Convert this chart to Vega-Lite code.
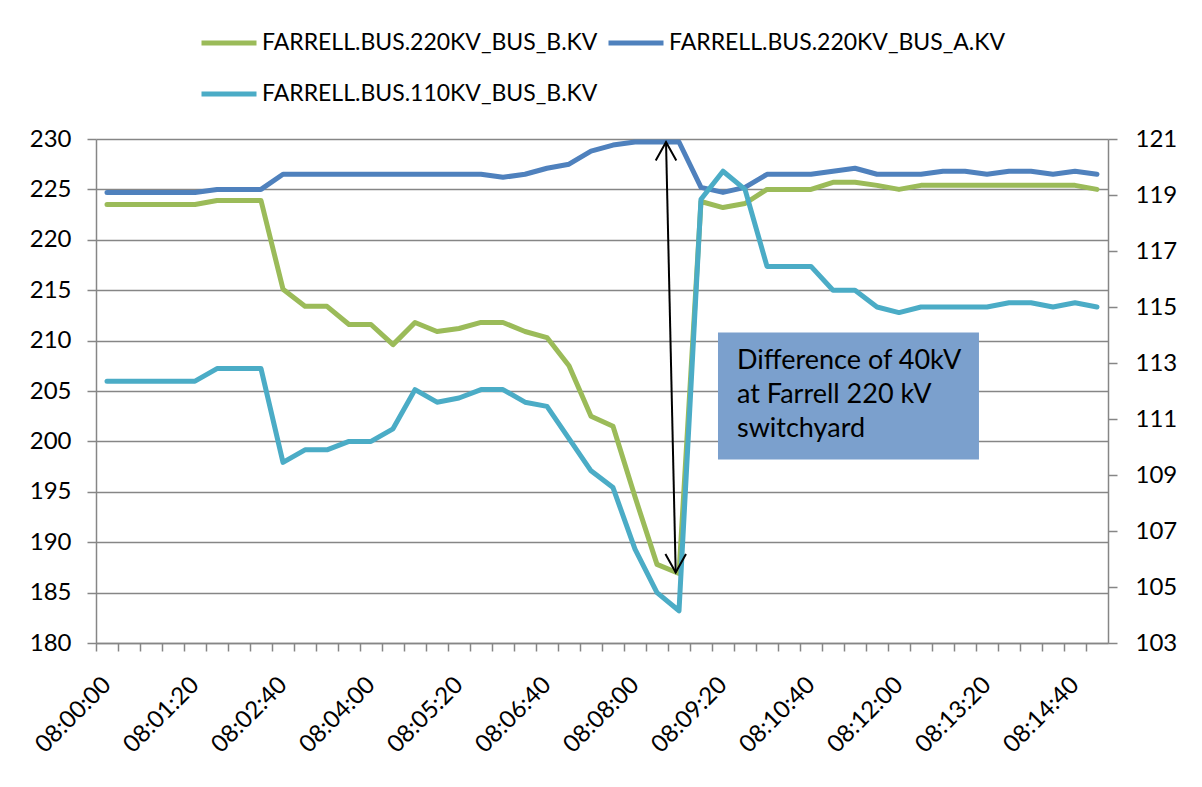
{
  "$schema": "https://vega.github.io/schema/vega-lite/v6.json",
  "width": 1012,
  "height": 504,
  "autosize": "none",
  "padding": {"left": 96, "top": 139, "right": 94, "bottom": 144},
  "background": "#ffffff",
  "config": {
    "view": {"stroke": null},
    "font": "Lato",
    "axis": {
      "labelFont": "Lato",
      "labelFontSize": 24,
      "labelColor": "#000000",
      "domainColor": "#868686",
      "domainWidth": 1.5,
      "tickColor": "#868686",
      "tickWidth": 1.5,
      "gridColor": "#868686",
      "gridWidth": 1.5
    }
  },
  "datasets": {
    "series": [
      {"t": "2012-01-01T08:00:00", "s": "FARRELL.BUS.220KV_BUS_B.KV", "v": 223.5},
      {"t": "2012-01-01T08:00:20", "s": "FARRELL.BUS.220KV_BUS_B.KV", "v": 223.5},
      {"t": "2012-01-01T08:00:40", "s": "FARRELL.BUS.220KV_BUS_B.KV", "v": 223.5},
      {"t": "2012-01-01T08:01:00", "s": "FARRELL.BUS.220KV_BUS_B.KV", "v": 223.5},
      {"t": "2012-01-01T08:01:20", "s": "FARRELL.BUS.220KV_BUS_B.KV", "v": 223.5},
      {"t": "2012-01-01T08:01:40", "s": "FARRELL.BUS.220KV_BUS_B.KV", "v": 223.9},
      {"t": "2012-01-01T08:02:00", "s": "FARRELL.BUS.220KV_BUS_B.KV", "v": 223.9},
      {"t": "2012-01-01T08:02:20", "s": "FARRELL.BUS.220KV_BUS_B.KV", "v": 223.9},
      {"t": "2012-01-01T08:02:40", "s": "FARRELL.BUS.220KV_BUS_B.KV", "v": 215.1},
      {"t": "2012-01-01T08:03:00", "s": "FARRELL.BUS.220KV_BUS_B.KV", "v": 213.4},
      {"t": "2012-01-01T08:03:20", "s": "FARRELL.BUS.220KV_BUS_B.KV", "v": 213.4},
      {"t": "2012-01-01T08:03:40", "s": "FARRELL.BUS.220KV_BUS_B.KV", "v": 211.6},
      {"t": "2012-01-01T08:04:00", "s": "FARRELL.BUS.220KV_BUS_B.KV", "v": 211.6},
      {"t": "2012-01-01T08:04:20", "s": "FARRELL.BUS.220KV_BUS_B.KV", "v": 209.6},
      {"t": "2012-01-01T08:04:40", "s": "FARRELL.BUS.220KV_BUS_B.KV", "v": 211.8},
      {"t": "2012-01-01T08:05:00", "s": "FARRELL.BUS.220KV_BUS_B.KV", "v": 210.9},
      {"t": "2012-01-01T08:05:20", "s": "FARRELL.BUS.220KV_BUS_B.KV", "v": 211.2},
      {"t": "2012-01-01T08:05:40", "s": "FARRELL.BUS.220KV_BUS_B.KV", "v": 211.8},
      {"t": "2012-01-01T08:06:00", "s": "FARRELL.BUS.220KV_BUS_B.KV", "v": 211.8},
      {"t": "2012-01-01T08:06:20", "s": "FARRELL.BUS.220KV_BUS_B.KV", "v": 210.9},
      {"t": "2012-01-01T08:06:40", "s": "FARRELL.BUS.220KV_BUS_B.KV", "v": 210.3},
      {"t": "2012-01-01T08:07:00", "s": "FARRELL.BUS.220KV_BUS_B.KV", "v": 207.5},
      {"t": "2012-01-01T08:07:20", "s": "FARRELL.BUS.220KV_BUS_B.KV", "v": 202.5},
      {"t": "2012-01-01T08:07:40", "s": "FARRELL.BUS.220KV_BUS_B.KV", "v": 201.5},
      {"t": "2012-01-01T08:08:00", "s": "FARRELL.BUS.220KV_BUS_B.KV", "v": 194.5},
      {"t": "2012-01-01T08:08:20", "s": "FARRELL.BUS.220KV_BUS_B.KV", "v": 187.8},
      {"t": "2012-01-01T08:08:40", "s": "FARRELL.BUS.220KV_BUS_B.KV", "v": 186.9},
      {"t": "2012-01-01T08:09:00", "s": "FARRELL.BUS.220KV_BUS_B.KV", "v": 223.8},
      {"t": "2012-01-01T08:09:20", "s": "FARRELL.BUS.220KV_BUS_B.KV", "v": 223.2},
      {"t": "2012-01-01T08:09:40", "s": "FARRELL.BUS.220KV_BUS_B.KV", "v": 223.6},
      {"t": "2012-01-01T08:10:00", "s": "FARRELL.BUS.220KV_BUS_B.KV", "v": 225.0},
      {"t": "2012-01-01T08:10:20", "s": "FARRELL.BUS.220KV_BUS_B.KV", "v": 225.0},
      {"t": "2012-01-01T08:10:40", "s": "FARRELL.BUS.220KV_BUS_B.KV", "v": 225.0},
      {"t": "2012-01-01T08:11:00", "s": "FARRELL.BUS.220KV_BUS_B.KV", "v": 225.7},
      {"t": "2012-01-01T08:11:20", "s": "FARRELL.BUS.220KV_BUS_B.KV", "v": 225.7},
      {"t": "2012-01-01T08:11:40", "s": "FARRELL.BUS.220KV_BUS_B.KV", "v": 225.4},
      {"t": "2012-01-01T08:12:00", "s": "FARRELL.BUS.220KV_BUS_B.KV", "v": 225.0},
      {"t": "2012-01-01T08:12:20", "s": "FARRELL.BUS.220KV_BUS_B.KV", "v": 225.4},
      {"t": "2012-01-01T08:12:40", "s": "FARRELL.BUS.220KV_BUS_B.KV", "v": 225.4},
      {"t": "2012-01-01T08:13:00", "s": "FARRELL.BUS.220KV_BUS_B.KV", "v": 225.4},
      {"t": "2012-01-01T08:13:20", "s": "FARRELL.BUS.220KV_BUS_B.KV", "v": 225.4},
      {"t": "2012-01-01T08:13:40", "s": "FARRELL.BUS.220KV_BUS_B.KV", "v": 225.4},
      {"t": "2012-01-01T08:14:00", "s": "FARRELL.BUS.220KV_BUS_B.KV", "v": 225.4},
      {"t": "2012-01-01T08:14:20", "s": "FARRELL.BUS.220KV_BUS_B.KV", "v": 225.4},
      {"t": "2012-01-01T08:14:40", "s": "FARRELL.BUS.220KV_BUS_B.KV", "v": 225.4},
      {"t": "2012-01-01T08:15:00", "s": "FARRELL.BUS.220KV_BUS_B.KV", "v": 225.0},
      {"t": "2012-01-01T08:00:00", "s": "FARRELL.BUS.220KV_BUS_A.KV", "v": 224.7},
      {"t": "2012-01-01T08:00:20", "s": "FARRELL.BUS.220KV_BUS_A.KV", "v": 224.7},
      {"t": "2012-01-01T08:00:40", "s": "FARRELL.BUS.220KV_BUS_A.KV", "v": 224.7},
      {"t": "2012-01-01T08:01:00", "s": "FARRELL.BUS.220KV_BUS_A.KV", "v": 224.7},
      {"t": "2012-01-01T08:01:20", "s": "FARRELL.BUS.220KV_BUS_A.KV", "v": 224.7},
      {"t": "2012-01-01T08:01:40", "s": "FARRELL.BUS.220KV_BUS_A.KV", "v": 225.0},
      {"t": "2012-01-01T08:02:00", "s": "FARRELL.BUS.220KV_BUS_A.KV", "v": 225.0},
      {"t": "2012-01-01T08:02:20", "s": "FARRELL.BUS.220KV_BUS_A.KV", "v": 225.0},
      {"t": "2012-01-01T08:02:40", "s": "FARRELL.BUS.220KV_BUS_A.KV", "v": 226.5},
      {"t": "2012-01-01T08:03:00", "s": "FARRELL.BUS.220KV_BUS_A.KV", "v": 226.5},
      {"t": "2012-01-01T08:03:20", "s": "FARRELL.BUS.220KV_BUS_A.KV", "v": 226.5},
      {"t": "2012-01-01T08:03:40", "s": "FARRELL.BUS.220KV_BUS_A.KV", "v": 226.5},
      {"t": "2012-01-01T08:04:00", "s": "FARRELL.BUS.220KV_BUS_A.KV", "v": 226.5},
      {"t": "2012-01-01T08:04:20", "s": "FARRELL.BUS.220KV_BUS_A.KV", "v": 226.5},
      {"t": "2012-01-01T08:04:40", "s": "FARRELL.BUS.220KV_BUS_A.KV", "v": 226.5},
      {"t": "2012-01-01T08:05:00", "s": "FARRELL.BUS.220KV_BUS_A.KV", "v": 226.5},
      {"t": "2012-01-01T08:05:20", "s": "FARRELL.BUS.220KV_BUS_A.KV", "v": 226.5},
      {"t": "2012-01-01T08:05:40", "s": "FARRELL.BUS.220KV_BUS_A.KV", "v": 226.5},
      {"t": "2012-01-01T08:06:00", "s": "FARRELL.BUS.220KV_BUS_A.KV", "v": 226.2},
      {"t": "2012-01-01T08:06:20", "s": "FARRELL.BUS.220KV_BUS_A.KV", "v": 226.5},
      {"t": "2012-01-01T08:06:40", "s": "FARRELL.BUS.220KV_BUS_A.KV", "v": 227.1},
      {"t": "2012-01-01T08:07:00", "s": "FARRELL.BUS.220KV_BUS_A.KV", "v": 227.5},
      {"t": "2012-01-01T08:07:20", "s": "FARRELL.BUS.220KV_BUS_A.KV", "v": 228.8},
      {"t": "2012-01-01T08:07:40", "s": "FARRELL.BUS.220KV_BUS_A.KV", "v": 229.4},
      {"t": "2012-01-01T08:08:00", "s": "FARRELL.BUS.220KV_BUS_A.KV", "v": 229.7},
      {"t": "2012-01-01T08:08:20", "s": "FARRELL.BUS.220KV_BUS_A.KV", "v": 229.7},
      {"t": "2012-01-01T08:08:40", "s": "FARRELL.BUS.220KV_BUS_A.KV", "v": 229.7},
      {"t": "2012-01-01T08:09:00", "s": "FARRELL.BUS.220KV_BUS_A.KV", "v": 225.2},
      {"t": "2012-01-01T08:09:20", "s": "FARRELL.BUS.220KV_BUS_A.KV", "v": 224.7},
      {"t": "2012-01-01T08:09:40", "s": "FARRELL.BUS.220KV_BUS_A.KV", "v": 225.2},
      {"t": "2012-01-01T08:10:00", "s": "FARRELL.BUS.220KV_BUS_A.KV", "v": 226.5},
      {"t": "2012-01-01T08:10:20", "s": "FARRELL.BUS.220KV_BUS_A.KV", "v": 226.5},
      {"t": "2012-01-01T08:10:40", "s": "FARRELL.BUS.220KV_BUS_A.KV", "v": 226.5},
      {"t": "2012-01-01T08:11:00", "s": "FARRELL.BUS.220KV_BUS_A.KV", "v": 226.8},
      {"t": "2012-01-01T08:11:20", "s": "FARRELL.BUS.220KV_BUS_A.KV", "v": 227.1},
      {"t": "2012-01-01T08:11:40", "s": "FARRELL.BUS.220KV_BUS_A.KV", "v": 226.5},
      {"t": "2012-01-01T08:12:00", "s": "FARRELL.BUS.220KV_BUS_A.KV", "v": 226.5},
      {"t": "2012-01-01T08:12:20", "s": "FARRELL.BUS.220KV_BUS_A.KV", "v": 226.5},
      {"t": "2012-01-01T08:12:40", "s": "FARRELL.BUS.220KV_BUS_A.KV", "v": 226.8},
      {"t": "2012-01-01T08:13:00", "s": "FARRELL.BUS.220KV_BUS_A.KV", "v": 226.8},
      {"t": "2012-01-01T08:13:20", "s": "FARRELL.BUS.220KV_BUS_A.KV", "v": 226.5},
      {"t": "2012-01-01T08:13:40", "s": "FARRELL.BUS.220KV_BUS_A.KV", "v": 226.8},
      {"t": "2012-01-01T08:14:00", "s": "FARRELL.BUS.220KV_BUS_A.KV", "v": 226.8},
      {"t": "2012-01-01T08:14:20", "s": "FARRELL.BUS.220KV_BUS_A.KV", "v": 226.5},
      {"t": "2012-01-01T08:14:40", "s": "FARRELL.BUS.220KV_BUS_A.KV", "v": 226.8},
      {"t": "2012-01-01T08:15:00", "s": "FARRELL.BUS.220KV_BUS_A.KV", "v": 226.5},
      {"t": "2012-01-01T08:00:00", "s": "FARRELL.BUS.110KV_BUS_B.KV", "v": 112.35},
      {"t": "2012-01-01T08:00:20", "s": "FARRELL.BUS.110KV_BUS_B.KV", "v": 112.35},
      {"t": "2012-01-01T08:00:40", "s": "FARRELL.BUS.110KV_BUS_B.KV", "v": 112.35},
      {"t": "2012-01-01T08:01:00", "s": "FARRELL.BUS.110KV_BUS_B.KV", "v": 112.35},
      {"t": "2012-01-01T08:01:20", "s": "FARRELL.BUS.110KV_BUS_B.KV", "v": 112.35},
      {"t": "2012-01-01T08:01:40", "s": "FARRELL.BUS.110KV_BUS_B.KV", "v": 112.8},
      {"t": "2012-01-01T08:02:00", "s": "FARRELL.BUS.110KV_BUS_B.KV", "v": 112.8},
      {"t": "2012-01-01T08:02:20", "s": "FARRELL.BUS.110KV_BUS_B.KV", "v": 112.8},
      {"t": "2012-01-01T08:02:40", "s": "FARRELL.BUS.110KV_BUS_B.KV", "v": 109.45},
      {"t": "2012-01-01T08:03:00", "s": "FARRELL.BUS.110KV_BUS_B.KV", "v": 109.9},
      {"t": "2012-01-01T08:03:20", "s": "FARRELL.BUS.110KV_BUS_B.KV", "v": 109.9},
      {"t": "2012-01-01T08:03:40", "s": "FARRELL.BUS.110KV_BUS_B.KV", "v": 110.2},
      {"t": "2012-01-01T08:04:00", "s": "FARRELL.BUS.110KV_BUS_B.KV", "v": 110.2},
      {"t": "2012-01-01T08:04:20", "s": "FARRELL.BUS.110KV_BUS_B.KV", "v": 110.65},
      {"t": "2012-01-01T08:04:40", "s": "FARRELL.BUS.110KV_BUS_B.KV", "v": 112.05},
      {"t": "2012-01-01T08:05:00", "s": "FARRELL.BUS.110KV_BUS_B.KV", "v": 111.6},
      {"t": "2012-01-01T08:05:20", "s": "FARRELL.BUS.110KV_BUS_B.KV", "v": 111.75},
      {"t": "2012-01-01T08:05:40", "s": "FARRELL.BUS.110KV_BUS_B.KV", "v": 112.05},
      {"t": "2012-01-01T08:06:00", "s": "FARRELL.BUS.110KV_BUS_B.KV", "v": 112.05},
      {"t": "2012-01-01T08:06:20", "s": "FARRELL.BUS.110KV_BUS_B.KV", "v": 111.6},
      {"t": "2012-01-01T08:06:40", "s": "FARRELL.BUS.110KV_BUS_B.KV", "v": 111.45},
      {"t": "2012-01-01T08:07:00", "s": "FARRELL.BUS.110KV_BUS_B.KV", "v": 110.3},
      {"t": "2012-01-01T08:07:20", "s": "FARRELL.BUS.110KV_BUS_B.KV", "v": 109.15},
      {"t": "2012-01-01T08:07:40", "s": "FARRELL.BUS.110KV_BUS_B.KV", "v": 108.55},
      {"t": "2012-01-01T08:08:00", "s": "FARRELL.BUS.110KV_BUS_B.KV", "v": 106.35},
      {"t": "2012-01-01T08:08:20", "s": "FARRELL.BUS.110KV_BUS_B.KV", "v": 104.8},
      {"t": "2012-01-01T08:08:40", "s": "FARRELL.BUS.110KV_BUS_B.KV", "v": 104.15},
      {"t": "2012-01-01T08:09:00", "s": "FARRELL.BUS.110KV_BUS_B.KV", "v": 118.85},
      {"t": "2012-01-01T08:09:20", "s": "FARRELL.BUS.110KV_BUS_B.KV", "v": 119.85},
      {"t": "2012-01-01T08:09:40", "s": "FARRELL.BUS.110KV_BUS_B.KV", "v": 119.2},
      {"t": "2012-01-01T08:10:00", "s": "FARRELL.BUS.110KV_BUS_B.KV", "v": 116.45},
      {"t": "2012-01-01T08:10:20", "s": "FARRELL.BUS.110KV_BUS_B.KV", "v": 116.45},
      {"t": "2012-01-01T08:10:40", "s": "FARRELL.BUS.110KV_BUS_B.KV", "v": 116.45},
      {"t": "2012-01-01T08:11:00", "s": "FARRELL.BUS.110KV_BUS_B.KV", "v": 115.6},
      {"t": "2012-01-01T08:11:20", "s": "FARRELL.BUS.110KV_BUS_B.KV", "v": 115.6},
      {"t": "2012-01-01T08:11:40", "s": "FARRELL.BUS.110KV_BUS_B.KV", "v": 115.0},
      {"t": "2012-01-01T08:12:00", "s": "FARRELL.BUS.110KV_BUS_B.KV", "v": 114.8},
      {"t": "2012-01-01T08:12:20", "s": "FARRELL.BUS.110KV_BUS_B.KV", "v": 115.0},
      {"t": "2012-01-01T08:12:40", "s": "FARRELL.BUS.110KV_BUS_B.KV", "v": 115.0},
      {"t": "2012-01-01T08:13:00", "s": "FARRELL.BUS.110KV_BUS_B.KV", "v": 115.0},
      {"t": "2012-01-01T08:13:20", "s": "FARRELL.BUS.110KV_BUS_B.KV", "v": 115.0},
      {"t": "2012-01-01T08:13:40", "s": "FARRELL.BUS.110KV_BUS_B.KV", "v": 115.15},
      {"t": "2012-01-01T08:14:00", "s": "FARRELL.BUS.110KV_BUS_B.KV", "v": 115.15},
      {"t": "2012-01-01T08:14:20", "s": "FARRELL.BUS.110KV_BUS_B.KV", "v": 115.0},
      {"t": "2012-01-01T08:14:40", "s": "FARRELL.BUS.110KV_BUS_B.KV", "v": 115.15},
      {"t": "2012-01-01T08:15:00", "s": "FARRELL.BUS.110KV_BUS_B.KV", "v": 115.0}
    ],
    "box": [
      {"t1": "2012-01-01T08:09:15.450", "t2": "2012-01-01T08:13:12.700", "v1": 210.8, "v2": 198.2}
    ],
    "note": [
      {"t": "2012-01-01T08:09:32.700", "v": 208.0, "line": "Difference of 40kV"},
      {"t": "2012-01-01T08:09:32.700", "v": 204.6, "line": "at Farrell 220 kV"},
      {"t": "2012-01-01T08:09:32.700", "v": 201.2, "line": "switchyard"}
    ],
    "arrow": [
      {"t": "2012-01-01T08:08:28.200", "v": 229.7, "end": "top"},
      {"t": "2012-01-01T08:08:37.000", "v": 187.0, "end": "bottom"}
    ]
  },
  "layer": [
    {
      "layer": [
        {
          "data": {"name": "series"},
          "transform": [{"filter": {"field": "s", "oneOf": ["FARRELL.BUS.220KV_BUS_B.KV", "FARRELL.BUS.220KV_BUS_A.KV"]}}],
          "mark": {"type": "line", "strokeWidth": 5, "strokeJoin": "round", "strokeCap": "round"},
          "encoding": {
            "x": {"field": "t", "type": "temporal", "title": null,
                  "scale": {"nice": false, "domain": [{"year": 2012, "month": 1, "date": 1, "hours": 7, "minutes": 59, "seconds": 50}, {"year": 2012, "month": 1, "date": 1, "hours": 8, "minutes": 15, "seconds": 10}]},
                  "axis": {
                    "values": [
                      {"year": 2012, "month": 1, "date": 1, "hours": 8, "minutes": 0, "seconds": 0},
                      {"year": 2012, "month": 1, "date": 1, "hours": 8, "minutes": 0, "seconds": 20},
                      {"year": 2012, "month": 1, "date": 1, "hours": 8, "minutes": 0, "seconds": 40},
                      {"year": 2012, "month": 1, "date": 1, "hours": 8, "minutes": 1, "seconds": 0},
                      {"year": 2012, "month": 1, "date": 1, "hours": 8, "minutes": 1, "seconds": 20},
                      {"year": 2012, "month": 1, "date": 1, "hours": 8, "minutes": 1, "seconds": 40},
                      {"year": 2012, "month": 1, "date": 1, "hours": 8, "minutes": 2, "seconds": 0},
                      {"year": 2012, "month": 1, "date": 1, "hours": 8, "minutes": 2, "seconds": 20},
                      {"year": 2012, "month": 1, "date": 1, "hours": 8, "minutes": 2, "seconds": 40},
                      {"year": 2012, "month": 1, "date": 1, "hours": 8, "minutes": 3, "seconds": 0},
                      {"year": 2012, "month": 1, "date": 1, "hours": 8, "minutes": 3, "seconds": 20},
                      {"year": 2012, "month": 1, "date": 1, "hours": 8, "minutes": 3, "seconds": 40},
                      {"year": 2012, "month": 1, "date": 1, "hours": 8, "minutes": 4, "seconds": 0},
                      {"year": 2012, "month": 1, "date": 1, "hours": 8, "minutes": 4, "seconds": 20},
                      {"year": 2012, "month": 1, "date": 1, "hours": 8, "minutes": 4, "seconds": 40},
                      {"year": 2012, "month": 1, "date": 1, "hours": 8, "minutes": 5, "seconds": 0},
                      {"year": 2012, "month": 1, "date": 1, "hours": 8, "minutes": 5, "seconds": 20},
                      {"year": 2012, "month": 1, "date": 1, "hours": 8, "minutes": 5, "seconds": 40},
                      {"year": 2012, "month": 1, "date": 1, "hours": 8, "minutes": 6, "seconds": 0},
                      {"year": 2012, "month": 1, "date": 1, "hours": 8, "minutes": 6, "seconds": 20},
                      {"year": 2012, "month": 1, "date": 1, "hours": 8, "minutes": 6, "seconds": 40},
                      {"year": 2012, "month": 1, "date": 1, "hours": 8, "minutes": 7, "seconds": 0},
                      {"year": 2012, "month": 1, "date": 1, "hours": 8, "minutes": 7, "seconds": 20},
                      {"year": 2012, "month": 1, "date": 1, "hours": 8, "minutes": 7, "seconds": 40},
                      {"year": 2012, "month": 1, "date": 1, "hours": 8, "minutes": 8, "seconds": 0},
                      {"year": 2012, "month": 1, "date": 1, "hours": 8, "minutes": 8, "seconds": 20},
                      {"year": 2012, "month": 1, "date": 1, "hours": 8, "minutes": 8, "seconds": 40},
                      {"year": 2012, "month": 1, "date": 1, "hours": 8, "minutes": 9, "seconds": 0},
                      {"year": 2012, "month": 1, "date": 1, "hours": 8, "minutes": 9, "seconds": 20},
                      {"year": 2012, "month": 1, "date": 1, "hours": 8, "minutes": 9, "seconds": 40},
                      {"year": 2012, "month": 1, "date": 1, "hours": 8, "minutes": 10, "seconds": 0},
                      {"year": 2012, "month": 1, "date": 1, "hours": 8, "minutes": 10, "seconds": 20},
                      {"year": 2012, "month": 1, "date": 1, "hours": 8, "minutes": 10, "seconds": 40},
                      {"year": 2012, "month": 1, "date": 1, "hours": 8, "minutes": 11, "seconds": 0},
                      {"year": 2012, "month": 1, "date": 1, "hours": 8, "minutes": 11, "seconds": 20},
                      {"year": 2012, "month": 1, "date": 1, "hours": 8, "minutes": 11, "seconds": 40},
                      {"year": 2012, "month": 1, "date": 1, "hours": 8, "minutes": 12, "seconds": 0},
                      {"year": 2012, "month": 1, "date": 1, "hours": 8, "minutes": 12, "seconds": 20},
                      {"year": 2012, "month": 1, "date": 1, "hours": 8, "minutes": 12, "seconds": 40},
                      {"year": 2012, "month": 1, "date": 1, "hours": 8, "minutes": 13, "seconds": 0},
                      {"year": 2012, "month": 1, "date": 1, "hours": 8, "minutes": 13, "seconds": 20},
                      {"year": 2012, "month": 1, "date": 1, "hours": 8, "minutes": 13, "seconds": 40},
                      {"year": 2012, "month": 1, "date": 1, "hours": 8, "minutes": 14, "seconds": 0},
                      {"year": 2012, "month": 1, "date": 1, "hours": 8, "minutes": 14, "seconds": 20},
                      {"year": 2012, "month": 1, "date": 1, "hours": 8, "minutes": 14, "seconds": 40},
                      {"year": 2012, "month": 1, "date": 1, "hours": 8, "minutes": 15, "seconds": 0}
                    ],
                    "tickCount": 100,
                    "format": "%H:%M:%S",
                    "labelExpr": "(minutes(datum.value) * 60 + seconds(datum.value)) % 80 == 0 ? datum.label : ''",
                    "labelAngle": -45,
                    "labelAlign": "right",
                    "labelBaseline": "middle",
                    "labelPadding": 30,
                    "tickSize": 8,
                    "tickOffset": -11,
                    "labelOffset": 11,
                    "labelOverlap": false,
                    "labelFlush": false,
                    "labelBound": false,
                    "grid": false
                  }},
            "y": {"field": "v", "type": "quantitative", "title": null,
                  "scale": {"domain": [180, 230], "nice": false, "zero": false},
                  "axis": {"values": [180, 185, 190, 195, 200, 205, 210, 215, 220, 225, 230], "grid": true, "tickSize": 9, "labelPadding": 16}},
            "color": {"field": "s", "type": "nominal",
                      "scale": {"domain": ["FARRELL.BUS.220KV_BUS_B.KV", "FARRELL.BUS.220KV_BUS_A.KV", "FARRELL.BUS.110KV_BUS_B.KV"], "range": ["#9BBB59", "#4F81BD", "#4BACC6"]},
                      "legend": {
                        "orient": "none", "legendX": 103, "legendY": -126, "direction": "horizontal", "columns": 2,
                        "title": null, "symbolType": "stroke", "symbolSize": 3025, "symbolStrokeWidth": 5,
                        "labelFont": "Lato", "labelFontSize": 23, "labelColor": "#000000", "labelLimit": 0,
                        "labelOffset": 3, "columnPadding": 0, "rowPadding": 9
                      }}
          }
        },
        {
          "data": {"name": "box"},
          "mark": {"type": "rect", "fill": "#7BA0CD"},
          "encoding": {
            "x": {"field": "t1", "type": "temporal", "title": null,
                  "scale": {"nice": false, "domain": [{"year": 2012, "month": 1, "date": 1, "hours": 7, "minutes": 59, "seconds": 50}, {"year": 2012, "month": 1, "date": 1, "hours": 8, "minutes": 15, "seconds": 10}]}},
            "x2": {"field": "t2"},
            "y": {"field": "v1", "type": "quantitative", "title": null, "scale": {"domain": [180, 230], "nice": false, "zero": false}},
            "y2": {"field": "v2"}
          }
        },
        {
          "data": {"name": "note"},
          "mark": {"type": "text", "align": "left", "baseline": "middle", "font": "Lato", "fontSize": 27, "color": "#000000"},
          "encoding": {
            "x": {"field": "t", "type": "temporal", "title": null,
                  "scale": {"nice": false, "domain": [{"year": 2012, "month": 1, "date": 1, "hours": 7, "minutes": 59, "seconds": 50}, {"year": 2012, "month": 1, "date": 1, "hours": 8, "minutes": 15, "seconds": 10}]}},
            "y": {"field": "v", "type": "quantitative", "title": null, "scale": {"domain": [180, 230], "nice": false, "zero": false}},
            "text": {"field": "line"}
          }
        }
      ]
    },
    {
      "data": {"name": "series"},
      "transform": [{"filter": {"field": "s", "equal": "FARRELL.BUS.110KV_BUS_B.KV"}}],
      "mark": {"type": "line", "strokeWidth": 5, "strokeJoin": "round", "strokeCap": "round"},
      "encoding": {
        "x": {"field": "t", "type": "temporal", "title": null,
              "scale": {"nice": false, "domain": [{"year": 2012, "month": 1, "date": 1, "hours": 7, "minutes": 59, "seconds": 50}, {"year": 2012, "month": 1, "date": 1, "hours": 8, "minutes": 15, "seconds": 10}]}},
        "y": {"field": "v", "type": "quantitative", "title": null,
              "scale": {"domain": [103, 121], "nice": false, "zero": false},
              "axis": {"orient": "right", "values": [103, 105, 107, 109, 111, 113, 115, 117, 119, 121], "grid": false, "tickSize": 9, "labelPadding": 18}},
        "color": {"field": "s", "type": "nominal",
                  "scale": {"domain": ["FARRELL.BUS.220KV_BUS_B.KV", "FARRELL.BUS.220KV_BUS_A.KV", "FARRELL.BUS.110KV_BUS_B.KV"], "range": ["#9BBB59", "#4F81BD", "#4BACC6"]},
                  "legend": null}
      }
    },
    {
      "layer": [
        {
          "data": {"name": "arrow"},
          "mark": {"type": "line", "color": "#000000", "strokeWidth": 2},
          "encoding": {
            "x": {"field": "t", "type": "temporal", "title": null,
                  "scale": {"nice": false, "domain": [{"year": 2012, "month": 1, "date": 1, "hours": 7, "minutes": 59, "seconds": 50}, {"year": 2012, "month": 1, "date": 1, "hours": 8, "minutes": 15, "seconds": 10}]}},
            "y": {"field": "v", "type": "quantitative", "title": null, "axis": null, "scale": {"domain": [180, 230], "nice": false, "zero": false}}
          }
        },
        {
          "data": {"name": "arrow"},
          "mark": {"type": "point", "filled": false, "stroke": "#000000", "strokeWidth": 2, "size": 1350, "opacity": 1},
          "encoding": {
            "x": {"field": "t", "type": "temporal", "title": null,
                  "scale": {"nice": false, "domain": [{"year": 2012, "month": 1, "date": 1, "hours": 7, "minutes": 59, "seconds": 50}, {"year": 2012, "month": 1, "date": 1, "hours": 8, "minutes": 15, "seconds": 10}]}},
            "y": {"field": "v", "type": "quantitative", "title": null, "axis": null, "scale": {"domain": [180, 230], "nice": false, "zero": false}},
            "shape": {"field": "end", "type": "nominal", "legend": null,
                      "scale": {"domain": ["top", "bottom"], "range": ["M-0.56,1L0,0L0.56,1", "M-0.56,-1L0,0L0.56,-1"]}}
          }
        }
      ]
    }
  ],
  "resolve": {"scale": {"y": "independent"}}
}
